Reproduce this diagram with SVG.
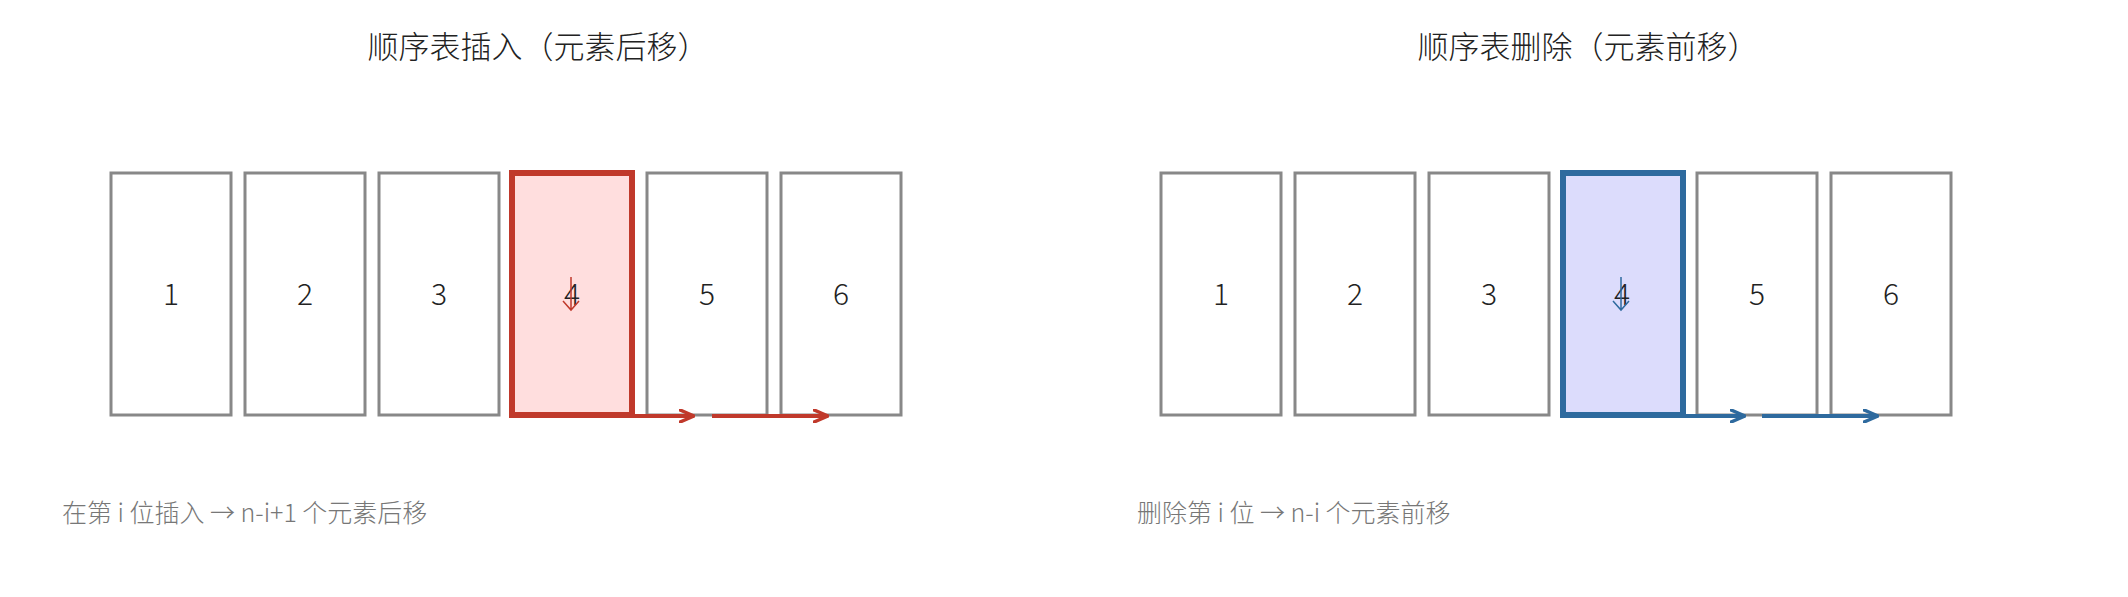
<svg xmlns="http://www.w3.org/2000/svg" width="2128" height="597" viewBox="0 0 2128 597">
<style>
text{font-family:"Noto Sans CJK SC","Noto Sans",sans-serif;font-weight:200}
.title{font-size:31px;fill:#222;text-anchor:middle}
.num{font-size:30px;fill:#222;text-anchor:middle}
.note{font-size:25px;fill:#777}
.box{fill:#fff;stroke:#888;stroke-width:3}
.hr{fill:#ffdede;stroke:#c0392b;stroke-width:6}
.hb{fill:#dcdcfc;stroke:#2e6a9e;stroke-width:6}
.ar{stroke:#c0392b;stroke-width:4;fill:none}
.ab{stroke:#2e6a9e;stroke-width:4;fill:none}
.sr{stroke:#c0392b;stroke-width:1.5;fill:none}
.sb{stroke:#2e6a9e;stroke-width:1.5;fill:none}
</style>
<defs>
<marker id="mr" viewBox="0 0 16 14" refX="15" refY="7" markerWidth="16" markerHeight="14" markerUnits="userSpaceOnUse" orient="auto"><path d="M1,1 L15,7 L1,13" fill="none" stroke="#c0392b" stroke-width="3.5" stroke-linecap="round" stroke-linejoin="round"/></marker>
<marker id="mb" viewBox="0 0 16 14" refX="15" refY="7" markerWidth="16" markerHeight="14" markerUnits="userSpaceOnUse" orient="auto"><path d="M1,1 L15,7 L1,13" fill="none" stroke="#2e6a9e" stroke-width="3.5" stroke-linecap="round" stroke-linejoin="round"/></marker>
</defs>
<rect width="2128" height="597" fill="#fff"/>
<text class="title" x="538" y="58">顺序表插入（元素后移）</text>
<text class="title" x="1588" y="58">顺序表删除（元素前移）</text>
<g id="L1"><rect class="box" x="111" y="173" width="120" height="242"/><text class="num" x="171" y="305">1</text></g>
<g id="L2"><rect class="box" x="245" y="173" width="120" height="242"/><text class="num" x="305" y="305">2</text></g>
<g id="L3"><rect class="box" x="379" y="173" width="120" height="242"/><text class="num" x="439" y="305">3</text></g>
<g id="L4"><rect class="hr" x="512" y="173" width="120" height="242"/><text class="num" x="572" y="305">4</text></g>
<g id="L5"><rect class="box" x="647" y="173" width="120" height="242"/><text class="num" x="707" y="305">5</text></g>
<g id="L6"><rect class="box" x="781" y="173" width="120" height="242"/><text class="num" x="841" y="305">6</text></g>
<g id="R1"><rect class="box" x="1161" y="173" width="120" height="242"/><text class="num" x="1221" y="305">1</text></g>
<g id="R2"><rect class="box" x="1295" y="173" width="120" height="242"/><text class="num" x="1355" y="305">2</text></g>
<g id="R3"><rect class="box" x="1429" y="173" width="120" height="242"/><text class="num" x="1489" y="305">3</text></g>
<g id="R4"><rect class="hb" x="1563" y="173" width="120" height="242"/><text class="num" x="1622" y="305">4</text></g>
<g id="R5"><rect class="box" x="1697" y="173" width="120" height="242"/><text class="num" x="1757" y="305">5</text></g>
<g id="R6"><rect class="box" x="1831" y="173" width="120" height="242"/><text class="num" x="1891" y="305">6</text></g>
<g id="connectors">
<path class="sr" d="M571,277 V310 M563,301 L571,310 L579,301"/>
<path class="sb" d="M1621,277 V310 M1613,301 L1621,310 L1629,301"/>
<line class="ar" x1="634" y1="416" x2="694" y2="416" marker-end="url(#mr)"/>
<line class="ar" x1="712" y1="416" x2="828" y2="416" marker-end="url(#mr)"/>
<line class="ab" x1="1685" y1="416" x2="1745" y2="416" marker-end="url(#mb)"/>
<line class="ab" x1="1762" y1="416" x2="1878" y2="416" marker-end="url(#mb)"/>
</g>
<text class="note" x="62" y="522">在第 i 位插入 → n-i+1 个元素后移</text>
<text class="note" x="1137" y="522">删除第 i 位 → n-i 个元素前移</text>
</svg>
